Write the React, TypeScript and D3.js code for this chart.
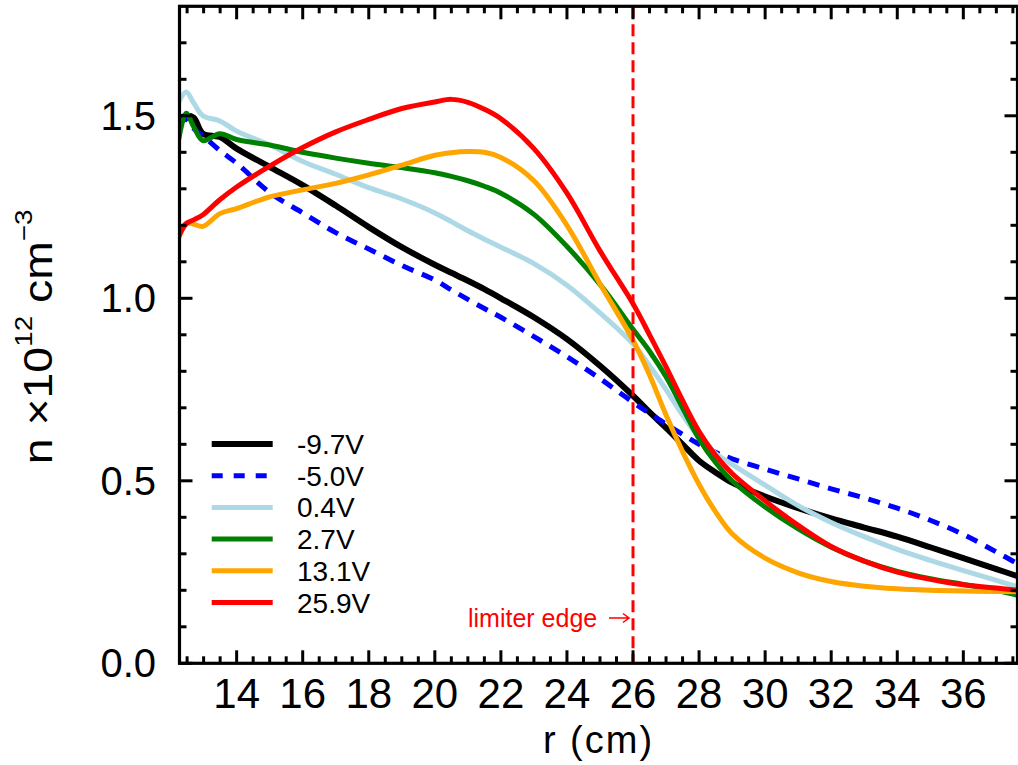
import React from "react";
import * as d3 from "d3";

const rGrid = [12.2, 12.47, 12.7, 12.98, 13.49, 14, 15, 16, 17, 18, 19, 20, 20.5, 21, 21.5, 22, 23, 24, 25, 26, 26.5, 27, 27.5, 28, 28.5, 29, 30, 31, 32, 33, 34, 35, 36, 37, 37.7];

const nM97 = [1.49, 1.5, 1.495, 1.451, 1.442, 1.41, 1.36, 1.31, 1.254, 1.195, 1.14, 1.092, 1.07, 1.048, 1.025, 1.0, 0.948, 0.888, 0.815, 0.733, 0.688, 0.645, 0.6, 0.555, 0.523, 0.495, 0.457, 0.425, 0.397, 0.372, 0.347, 0.318, 0.288, 0.258, 0.237];
const nM50 = [1.48, 1.49, 1.465, 1.445, 1.405, 1.37, 1.29, 1.234, 1.18, 1.135, 1.09, 1.05, 1.023, 0.997, 0.972, 0.948, 0.895, 0.84, 0.78, 0.715, 0.685, 0.655, 0.627, 0.6, 0.578, 0.56, 0.532, 0.505, 0.478, 0.453, 0.425, 0.392, 0.353, 0.305, 0.27];
const nP04 = [1.53, 1.565, 1.535, 1.5, 1.486, 1.458, 1.42, 1.375, 1.34, 1.303, 1.272, 1.234, 1.21, 1.185, 1.162, 1.14, 1.095, 1.036, 0.96, 0.875, 0.815, 0.75, 0.68, 0.618, 0.575, 0.545, 0.488, 0.432, 0.386, 0.347, 0.312, 0.282, 0.254, 0.227, 0.208];
const nP27 = [1.41, 1.507, 1.47, 1.432, 1.451, 1.435, 1.42, 1.4, 1.384, 1.37, 1.358, 1.344, 1.334, 1.322, 1.307, 1.288, 1.23, 1.142, 1.038, 0.915, 0.855, 0.785, 0.7, 0.615, 0.55, 0.5, 0.428, 0.368, 0.318, 0.28, 0.252, 0.232, 0.216, 0.2, 0.185];
const nP131 = [1.15, 1.206, 1.203, 1.197, 1.232, 1.246, 1.278, 1.297, 1.315, 1.338, 1.365, 1.392, 1.399, 1.402, 1.4, 1.386, 1.322, 1.2, 1.04, 0.885, 0.79, 0.68, 0.58, 0.49, 0.415, 0.355, 0.288, 0.248, 0.224, 0.211, 0.204, 0.2, 0.198, 0.197, 0.196];
const nP259 = [1.16, 1.204, 1.215, 1.229, 1.27, 1.305, 1.362, 1.413, 1.456, 1.49, 1.52, 1.538, 1.545, 1.537, 1.518, 1.492, 1.41, 1.288, 1.13, 0.985, 0.9, 0.812, 0.72, 0.635, 0.57, 0.52, 0.445, 0.378, 0.32, 0.28, 0.25, 0.23, 0.215, 0.206, 0.2];

const seriesLabels = ["-9.7V", "-5.0V", "0.4V", "2.7V", "13.1V", "25.9V"];
const seriesValues = [nM97, nM50, nP04, nP27, nP131, nP259];
const seriesColors = ["#000000", "#0000ff", "#add8e6", "#008000", "#ffa500", "#ff0000"];
const seriesWidths = [6, 5, 5, 5, 5, 5];
const seriesDash = [null, "12,9", null, null, null, null];

const xMajorTicks = [14, 16, 18, 20, 22, 24, 26, 28, 30, 32, 34, 36];
const yMajorTicks = [0, 0.5, 1.0, 1.5];
const limiterR = 26;

const W = 1018;
const H = 765;
const L = 179.5, R = 1017.5, T = 6.3, B = 663.3;

export default function App() {
  const x = d3.scaleLinear().domain([12.27, 37.64]).range([L, R]);
  const y = d3.scaleLinear().domain([0, 1.8]).range([B, T]);

  const xMinor = d3.range(12.5, 37.6, 0.5).filter((v) => Math.abs(v / 2 - Math.round(v / 2)) > 1e-6);
  const yMinor = d3.range(0.1, 1.8, 0.1).filter((v) => Math.abs(v * 2 - Math.round(v * 2)) > 1e-6);

  const line = d3
    .line<[number, number]>()
    .x((d) => x(d[0]))
    .y((d) => y(d[1]))
    .curve(d3.curveCatmullRom.alpha(0.5));

  const font = "'Liberation Sans', Arial, Helvetica, sans-serif";
  const majLen = 13;
  const minLen = 7;

  const legendY0 = 444;
  const legendDy = 31.7;

  return (
    <svg width={W} height={H} style={{ position: "absolute", left: 0, top: 0, background: "#fff" }} fontFamily={font}>
      <defs>
        <clipPath id="plotclip">
          <rect x={L} y={T} width={R - L} height={B - T} />
        </clipPath>
      </defs>

      <g clipPath="url(#plotclip)">
        {seriesValues.map((vals, i) => (
          <path
            key={i}
            d={line(rGrid.map((r, j) => [r, vals[j]] as [number, number])) || ""}
            fill="none"
            stroke={seriesColors[i]}
            strokeWidth={seriesWidths[i]}
            strokeDasharray={seriesDash[i] || undefined}
            strokeLinejoin="miter"
          />
        ))}
        <line x1={x(limiterR)} x2={x(limiterR)} y1={T} y2={B} stroke="#ff0000" strokeWidth={3} strokeDasharray="12,6" />
      </g>

      {/* frame */}
      <rect x={L} y={T} width={R - L} height={B - T} fill="none" stroke="#000" strokeWidth={3.2} />

      {/* x ticks */}
      {xMajorTicks.map((v) => (
        <g key={"xM" + v}>
          <line x1={x(v)} x2={x(v)} y1={B} y2={B - majLen} stroke="#000" strokeWidth={3} />
          <line x1={x(v)} x2={x(v)} y1={T} y2={T + majLen} stroke="#000" strokeWidth={3} />
          <text x={x(v)} y={708} textAnchor="middle" fontSize={42}>{v}</text>
        </g>
      ))}
      {xMinor.map((v) => (
        <g key={"xm" + v}>
          <line x1={x(v)} x2={x(v)} y1={B} y2={B - minLen} stroke="#000" strokeWidth={3} />
          <line x1={x(v)} x2={x(v)} y1={T} y2={T + minLen} stroke="#000" strokeWidth={3} />
        </g>
      ))}

      {/* y ticks */}
      {yMajorTicks.map((v) => (
        <g key={"yM" + v}>
          <line x1={L} x2={L + majLen} y1={y(v)} y2={y(v)} stroke="#000" strokeWidth={3} />
          <line x1={R} x2={R - majLen} y1={y(v)} y2={y(v)} stroke="#000" strokeWidth={3} />
          <text x={156} y={y(v) + 14} textAnchor="end" fontSize={40}>{v.toFixed(1)}</text>
        </g>
      ))}
      {yMinor.map((v) => (
        <g key={"ym" + v}>
          <line x1={L} x2={L + minLen} y1={y(v)} y2={y(v)} stroke="#000" strokeWidth={3} />
          <line x1={R} x2={R - minLen} y1={y(v)} y2={y(v)} stroke="#000" strokeWidth={3} />
        </g>
      ))}

      {/* axis titles */}
      <text x={(L + R) / 2} y={753} textAnchor="middle" fontSize={38} letterSpacing={2}>r (cm)</text>
      <text transform={`translate(52, ${(T + B) / 2 + 2}) rotate(-90) scale(1.16, 1)`} textAnchor="middle" fontSize={40}>
        n ×10
        <tspan fontSize={24} dy={-20}>12</tspan>
        <tspan dy={20}> cm</tspan>
        <tspan fontSize={24} dy={-20}>−3</tspan>
      </text>

      {/* legend */}
      {seriesLabels.map((lab, i) => (
        <g key={"lg" + i}>
          <line
            x1={211.7}
            x2={272.7}
            y1={legendY0 + i * legendDy}
            y2={legendY0 + i * legendDy}
            stroke={seriesColors[i]}
            strokeWidth={seriesWidths[i]}
            strokeDasharray={i === 1 ? "11,11" : undefined}
          />
          <text x={297} y={legendY0 + i * legendDy + 10} fontSize={28}>{lab}</text>
        </g>
      ))}

      {/* limiter annotation */}
      <text x={468} y={627} fontSize={25} fill="#ff0000">limiter edge</text>
      <path d="M609,618 H629 M623,613.5 L629,618 L623,622.5" fill="none" stroke="#ff0000" strokeWidth={1.5} />
    </svg>
  );
}
